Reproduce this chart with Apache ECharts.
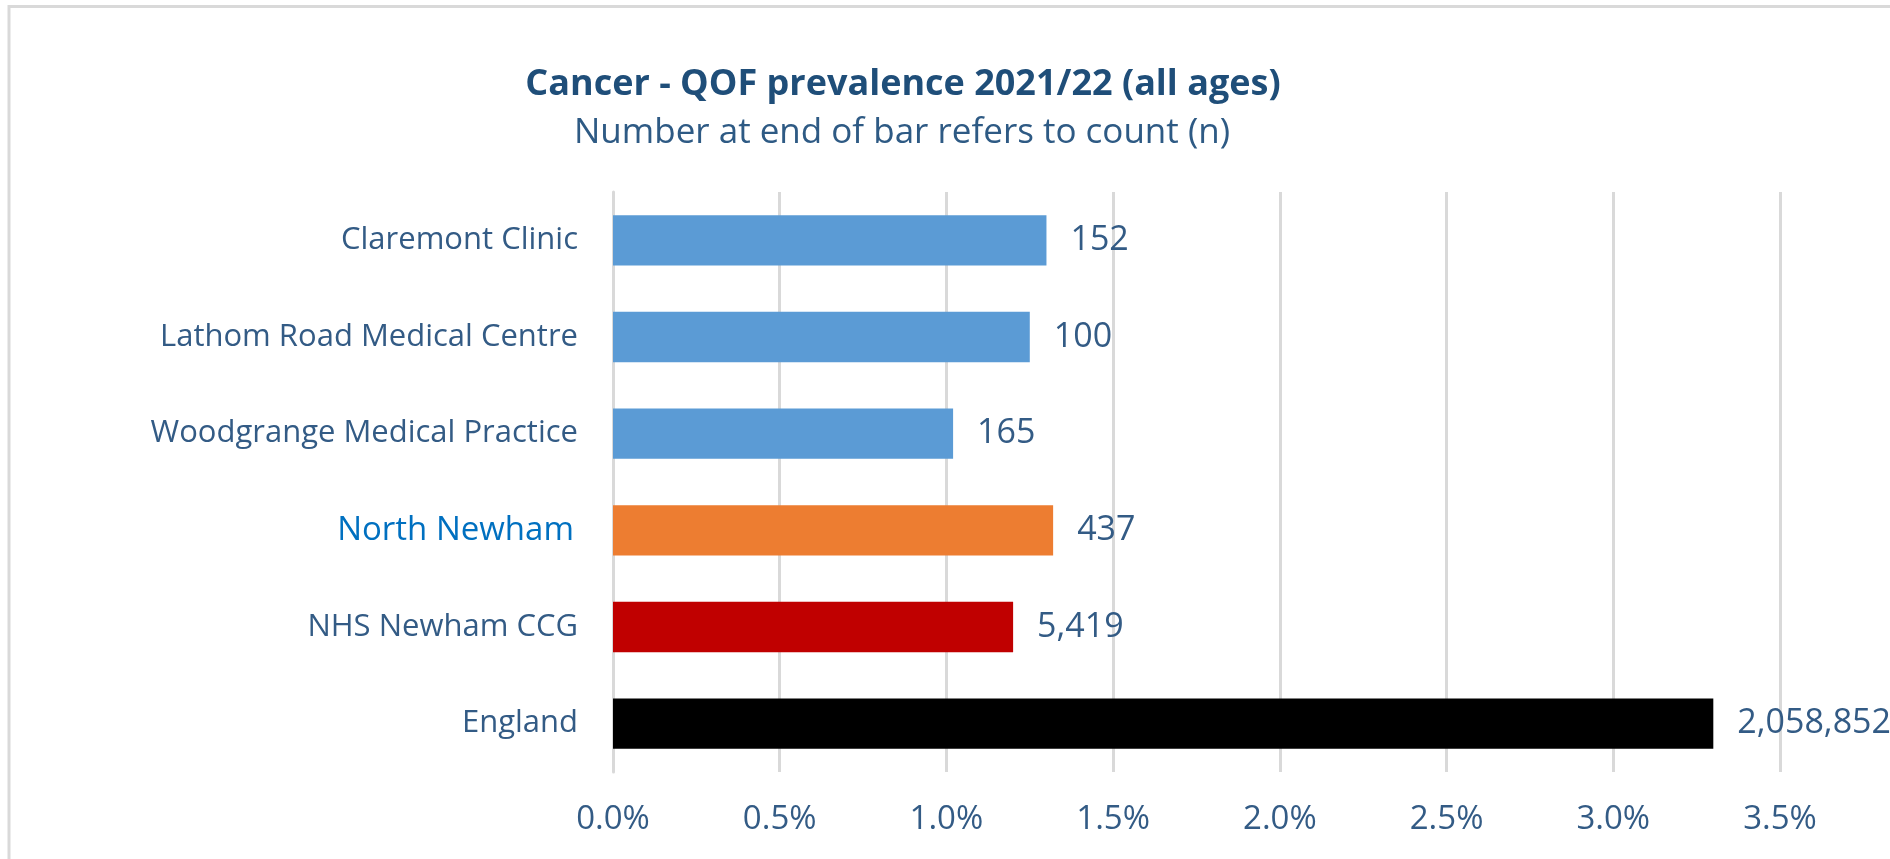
<!DOCTYPE html>
<html>
<head>
<meta charset="utf-8">
<title>Cancer - QOF prevalence 2021/22</title>
<script src="https://cdn.jsdelivr.net/npm/echarts@6/dist/echarts.min.js"></script>
<style>
    html, body { margin: 0; padding: 0; background: #ffffff; }
    #chart { width: 1890px; height: 859px; }
</style>
</head>
<body>
<div id="chart"></div>
<script>
// data
const categories = ['Claremont Clinic', 'Lathom Road Medical Centre', 'Woodgrange Medical Practice',
    'North Newham', 'NHS Newham CCG', 'England'];
const prevalence = [1.30, 1.25, 1.02, 1.32, 1.20, 3.30];
const counts = [152, 100, 165, 437, 5419, 2058852];
const barColors = ['#5B9BD5', '#5B9BD5', '#5B9BD5', '#ED7D31', '#C00000', '#000000'];
const xTicks = [0, 0.5, 1.0, 1.5, 2.0, 2.5, 3.0, 3.5];

const textColor = '#335B85';
const font = '"Open Sans", "Noto Sans", sans-serif';

let chart = echarts.init(document.getElementById('chart'));

let option = {
    backgroundColor: '#ffffff',
    textStyle: { fontFamily: font },
    title: [{
        text: 'Cancer - QOF prevalence 2021/22 (all ages)',
        left: 898,
        textAlign: 'center',
        top: 58,
        textStyle: { color: '#1F4E79', fontSize: 36, fontWeight: 'bold', fontFamily: font, lineHeight: 44 }
    }, {
        text: 'Number at end of bar refers to count (n)',
        left: 897,
        textAlign: 'center',
        top: 106,
        textStyle: { color: '#2E5A84', fontSize: 35, fontWeight: 'normal', fontFamily: font, lineHeight: 44 }
    }],
    graphic: [{
        type: 'rect',
        shape: { x: 9, y: 6.5, width: 2000, height: 1000 },
        style: { fill: 'none', stroke: '#D9D9D9', lineWidth: 3 },
        silent: true
    }],
    grid: { left: 613, right: 110, top: 192, bottom: 87 },
    xAxis: {
        type: 'value',
        min: xTicks[0],
        max: xTicks[xTicks.length - 1],
        interval: 0.5,
        axisLine: { show: false },
        axisTick: { show: false },
        splitLine: { lineStyle: { color: '#D9D9D9', width: 3 } },
        axisLabel: {
            color: textColor,
            fontSize: 33,
            fontFamily: font,
            margin: 31,
            formatter: v => v.toFixed(1) + '%'
        }
    },
    yAxis: {
        type: 'category',
        inverse: true,
        data: categories.map(c => c == 'North Newham'
            ? { value: c, textStyle: { color: '#0070C0', fontSize: 33, padding: [0, 4, 0, 0] } }
            : c),
        axisLine: { lineStyle: { color: '#D9D9D9', width: 3 } },
        axisTick: { show: false },
        axisLabel: {
            color: textColor,
            fontSize: 31,
            fontFamily: font,
            margin: 35
        }
    },
    series: [{
        type: 'bar',
        barCategoryGap: '48%',
        data: prevalence.map((v, i) => ({ value: v, itemStyle: { color: barColors[i] } })),
        label: {
            show: true,
            position: 'right',
            distance: 24,
            color: textColor,
            fontSize: 34,
            fontFamily: font,
            formatter: p => counts[p.dataIndex].toLocaleString('en-GB')
        }
    }]
};

chart.setOption(option);
</script>
</body>
</html>
